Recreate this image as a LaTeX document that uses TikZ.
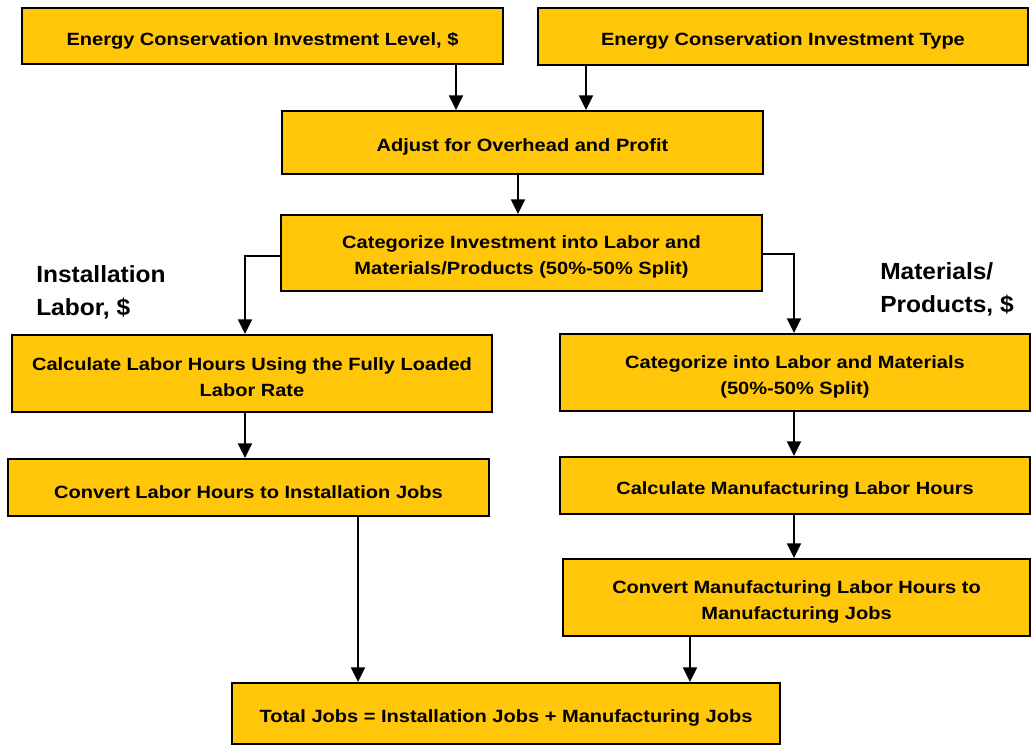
\documentclass[tikz,border=0pt]{standalone}
\usepackage{fontspec}
\setmainfont{Liberation Sans}
\newfontfamily\boxfont[FakeStretch=1.13]{Liberation Sans}
\newfontfamily\lblfont[FakeStretch=1.05]{Liberation Sans}
\usetikzlibrary{arrows.meta}
\definecolor{gold}{RGB}{255,198,10}
\begin{document}
\begin{tikzpicture}[x=0.75pt,y=-0.75pt,
  box/.style={draw=black, line width=1.5pt, fill=gold, inner sep=0pt},
  txt/.style={align=center, inner sep=0pt,
    font=\boxfont\bfseries\fontsize{13.3}{19.5}\selectfont},
  arr/.style={line width=1.5pt, -{Triangle[length=11pt,width=10.5pt]}},
  lbl/.style={align=left, anchor=west, inner sep=0pt, font=\lblfont\bfseries\fontsize{17.5}{24.75}\selectfont}]
\useasboundingbox (0,0) rectangle (1032,746);
\node[box, minimum width=481*0.75pt, minimum height=56*0.75pt] (lvl) at (262.5,36) {};
\node[box, minimum width=490*0.75pt, minimum height=57*0.75pt] (typ) at (783,36.5) {};
\node[box, minimum width=481*0.75pt, minimum height=63*0.75pt] (adj) at (522.5,142.5) {};
\node[box, minimum width=481*0.75pt, minimum height=76*0.75pt] (cat) at (521.5,253) {};
\node[box, minimum width=480*0.75pt, minimum height=77*0.75pt] (cal) at (252,373.5) {};
\node[box, minimum width=481*0.75pt, minimum height=57*0.75pt] (cvl) at (248.5,487.5) {};
\node[box, minimum width=470*0.75pt, minimum height=77*0.75pt] (clm) at (795,372.5) {};
\node[box, minimum width=470*0.75pt, minimum height=57*0.75pt] (cmh) at (795,485.5) {};
\node[box, minimum width=467*0.75pt, minimum height=77*0.75pt] (cmj) at (796.5,597.5) {};
\node[box, minimum width=548*0.75pt, minimum height=61*0.75pt] (tot) at (506,713.5) {};
\node[txt] (lvlT) at ([yshift=-3.5pt]lvl.center) {Energy Conservation Investment Level, \$};
\node[txt] (typT) at ([yshift=-3.5pt]typ.center) {Energy Conservation Investment Type};
\node[txt] (adjT) at ([yshift=-3.5pt]adj.center) {Adjust for Overhead and Profit};
\node[txt] (catT) at ([yshift=-3pt]cat.center) {Categorize Investment into Labor and\\Materials/Products (50\%-50\% Split)};
\node[txt] (calT) at ([yshift=-3pt]cal.center) {Calculate Labor Hours Using the Fully Loaded\\Labor Rate};
\node[txt] (cvlT) at ([yshift=-3.5pt]cvl.center) {Convert Labor Hours to Installation Jobs};
\node[txt] (clmT) at ([yshift=-3pt]clm.center) {Categorize into Labor and Materials\\(50\%-50\% Split)};
\node[txt] (cmhT) at ([yshift=-3.5pt]cmh.center) {Calculate Manufacturing Labor Hours};
\node[txt] (cmjT) at ([yshift=-3pt]cmj.center) {Convert Manufacturing Labor Hours to\\Manufacturing Jobs};
\node[txt] (totT) at ([yshift=-3.5pt]tot.center) {Total Jobs = Installation Jobs + Manufacturing Jobs};
\node[lbl] (il) at (36,292) {Installation\\Labor, \$};
\node[lbl] (mp) at (880,289) {Materials/\\Products, \$};
\coordinate (xa) at (456,0);
\coordinate (xb) at (586,0);
\coordinate (xc) at (518,0);
\coordinate (xl) at (245,0);
\coordinate (xr) at (794,0);
\coordinate (xi) at (358,0);
\coordinate (xm) at (690,0);
\coordinate (yl) at (0,256);
\coordinate (yr) at (0,254);
\draw[arr] (lvl.south -| xa) -- (adj.north -| xa);
\draw[arr] (typ.south -| xb) -- (adj.north -| xb);
\draw[arr] (adj.south -| xc) -- (cat.north -| xc);
\draw[arr] (cat.west |- yl) -| (cal.north -| xl);
\draw[arr] (cat.east |- yr) -| (clm.north -| xr);
\draw[arr] (cal.south -| xl) -- (cvl.north -| xl);
\draw[arr] (clm.south -| xr) -- (cmh.north -| xr);
\draw[arr] (cmh.south -| xr) -- (cmj.north -| xr);
\draw[arr] (cvl.south -| xi) -- (tot.north -| xi);
\draw[arr] (cmj.south -| xm) -- (tot.north -| xm);
\end{tikzpicture}
\end{document}
